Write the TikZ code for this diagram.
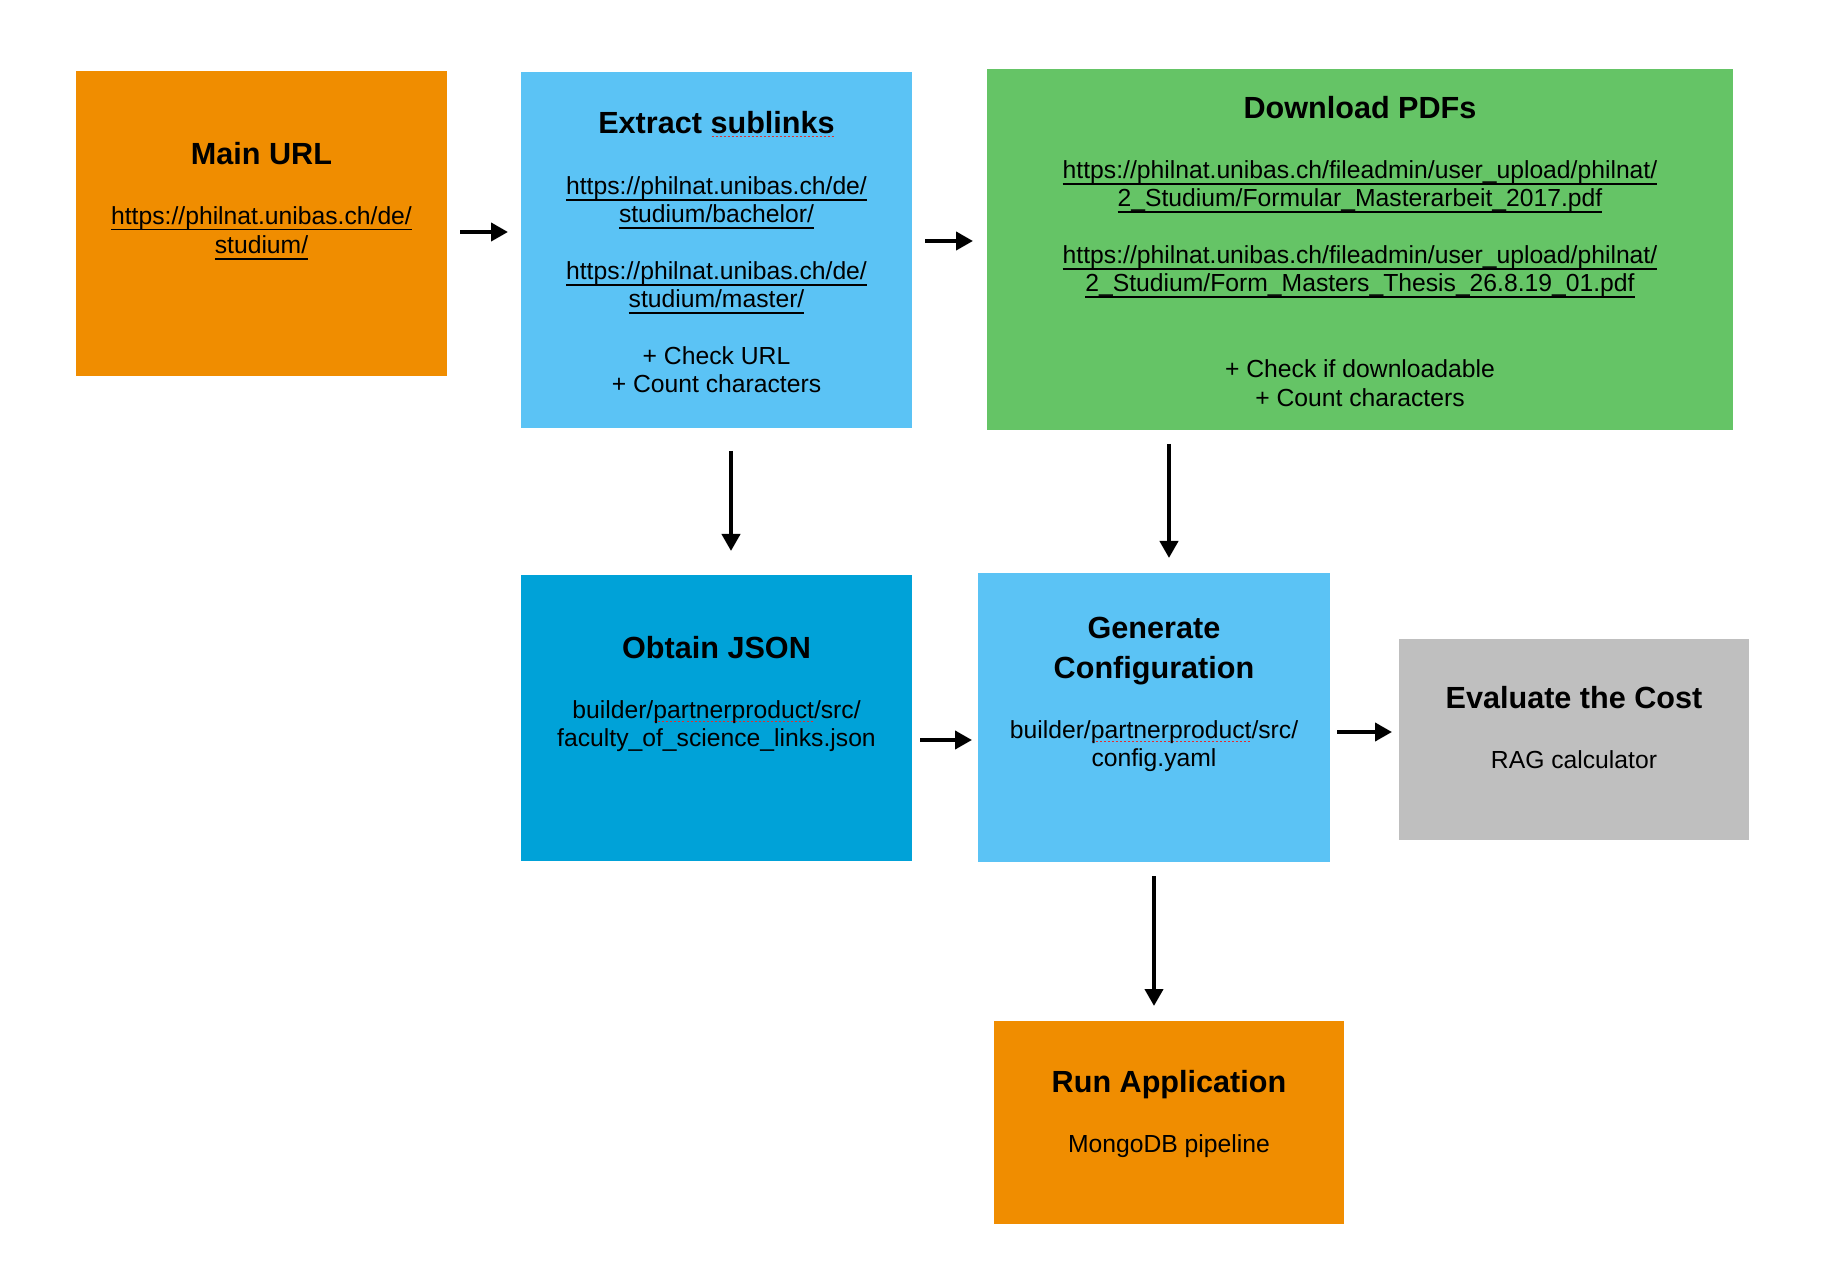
\documentclass[tikz,border=0pt]{standalone}
\usepackage{fontspec}
\setmainfont{Liberation Sans}
\usetikzlibrary{arrows.meta,fit}
\definecolor{cOrange}{HTML}{F08D00}
\definecolor{cLight}{HTML}{5BC3F5}
\definecolor{cGreen}{HTML}{65C466}
\definecolor{cDark}{HTML}{00A2D8}
\definecolor{cGray}{HTML}{BFBFBF}
\definecolor{spellred}{HTML}{E0302F}
\newsavebox\myulbox
\newcommand\myul[1]{\sbox\myulbox{#1}\rlap{\rule[-2.8pt]{\wd\myulbox}{0.6pt}}\usebox\myulbox}
\newcommand\spellul[1]{\sbox\myulbox{#1}\rlap{\textcolor{spellred}{\hbox to \wd\myulbox{\xleaders\hbox to 2pt{\hss\rule[-1.4pt]{1pt}{0.6pt}\hss}\hfill}}}\usebox\myulbox}
\begin{document}
\begin{tikzpicture}[x=0.5pt,y=-0.5pt,
  box/.style={inner sep=0pt, draw=none},
  ttl/.style={anchor=base, inner sep=0pt, yshift=-0.5pt, font={\bfseries\fontsize{15.3pt}{18pt}\selectfont}},
  txt/.style={anchor=base, inner sep=0pt, yshift=-1pt, font={\fontsize{12.35pt}{14.8pt}\selectfont}},
  arr/.style={line width=2pt, -{Triangle[length=8.5pt,width=9pt]}}]
\fill[white] (0,0) rectangle (1838,1272);
\useasboundingbox (0,0) rectangle (1838,1272);

% boxes
\node[box, fill=cOrange, fit={(76,71) (447,376)}] (main) {};
\node[box, fill=cLight, fit={(521,72) (912,428)}] (extract) {};
\node[box, fill=cGreen, fit={(987,69) (1733,430)}] (download) {};
\node[box, fill=cDark, fit={(521,575) (912,861)}] (obtain) {};
\node[box, fill=cLight, fit={(978,573) (1330,862)}] (generate) {};
\node[box, fill=cGray, fit={(1399,639) (1749,840)}] (evaluate) {};
\node[box, fill=cOrange, fit={(994,1021) (1344,1224)}] (run) {};

% Main URL
\node[ttl] (main-t) at (261.5,164) {Main URL};
\node[txt] (main-1) at (261.5,222.5) {\myul{https://philnat.unibas.ch/de/}};
\node[txt] (main-2) at (261.5,252) {\myul{studium/}};

% Extract sublinks
\node[ttl] (ext-t) at (716.5,133) {Extract \spellul{sublinks}};
\node[txt] (ext-1) at (716.5,193) {\myul{https://philnat.unibas.ch/de/}};
\node[txt] (ext-2) at (716.5,221) {\myul{studium/bachelor/}};
\node[txt] (ext-3) at (716.5,278) {\myul{https://philnat.unibas.ch/de/}};
\node[txt] (ext-4) at (716.5,306) {\myul{studium/master/}};
\node[txt] (ext-5) at (716.5,363) {+ Check URL};
\node[txt] (ext-6) at (716.5,391) {+ Count characters};

% Download PDFs
\node[ttl] (dl-t) at (1360,118) {Download PDFs};
\node[txt] (dl-1) at (1360,177) {\myul{https://philnat.unibas.ch/fileadmin/user\_upload/philnat/}};
\node[txt] (dl-2) at (1360,205) {\myul{2\_Studium/Formular\_Masterarbeit\_2017.pdf}};
\node[txt] (dl-3) at (1360,262) {\myul{https://philnat.unibas.ch/fileadmin/user\_upload/philnat/}};
\node[txt] (dl-4) at (1360,290) {\myul{2\_Studium/Form\_Masters\_Thesis\_26.8.19\_01.pdf}};
\node[txt] (dl-5) at (1360,376) {+ Check if downloadable};
\node[txt] (dl-6) at (1360,405) {+ Count characters};

% Obtain JSON
\node[ttl] (ob-t) at (716.5,658) {Obtain JSON};
\node[txt] (ob-1) at (716.5,717) {builder/\spellul{partnerproduct}/src/};
\node[txt] (ob-2) at (716.5,745) {faculty\_of\_science\_links.json};

% Generate Configuration
\node[ttl] (gen-t1) at (1154,638) {Generate};
\node[ttl] (gen-t2) at (1154,678) {Configuration};
\node[txt] (gen-1) at (1154,737) {builder/\spellul{partnerproduct}/src/};
\node[txt] (gen-2) at (1154,765) {config.yaml};

% Evaluate the Cost
\node[ttl] (ev-t) at (1574,708) {Evaluate the Cost};
\node[txt] (ev-1) at (1574,767) {RAG calculator};

% Run Application
\node[ttl] (run-t) at (1169,1091) {Run Application};
\node[txt] (run-1) at (1169,1150) {MongoDB pipeline};

% arrow end points
\coordinate (a1s) at (460,232);  \coordinate (a1e) at (508,232);
\coordinate (a2s) at (925,241);  \coordinate (a2e) at (973,241);
\coordinate (a3s) at (731,451);  \coordinate (a3e) at (731,551);
\coordinate (a4s) at (1169,444); \coordinate (a4e) at (1169,558);
\coordinate (a5s) at (920,740);  \coordinate (a5e) at (972,740);
\coordinate (a6s) at (1337,732); \coordinate (a6e) at (1392,732);
\coordinate (a7s) at (1154,876); \coordinate (a7e) at (1154,1006);

\draw[arr] (a1s) -- (a1e);
\draw[arr] (a2s) -- (a2e);
\draw[arr] (a3s) -- (a3e);
\draw[arr] (a4s) -- (a4e);
\draw[arr] (a5s) -- (a5e);
\draw[arr] (a6s) -- (a6e);
\draw[arr] (a7s) -- (a7e);
\end{tikzpicture}
\end{document}
